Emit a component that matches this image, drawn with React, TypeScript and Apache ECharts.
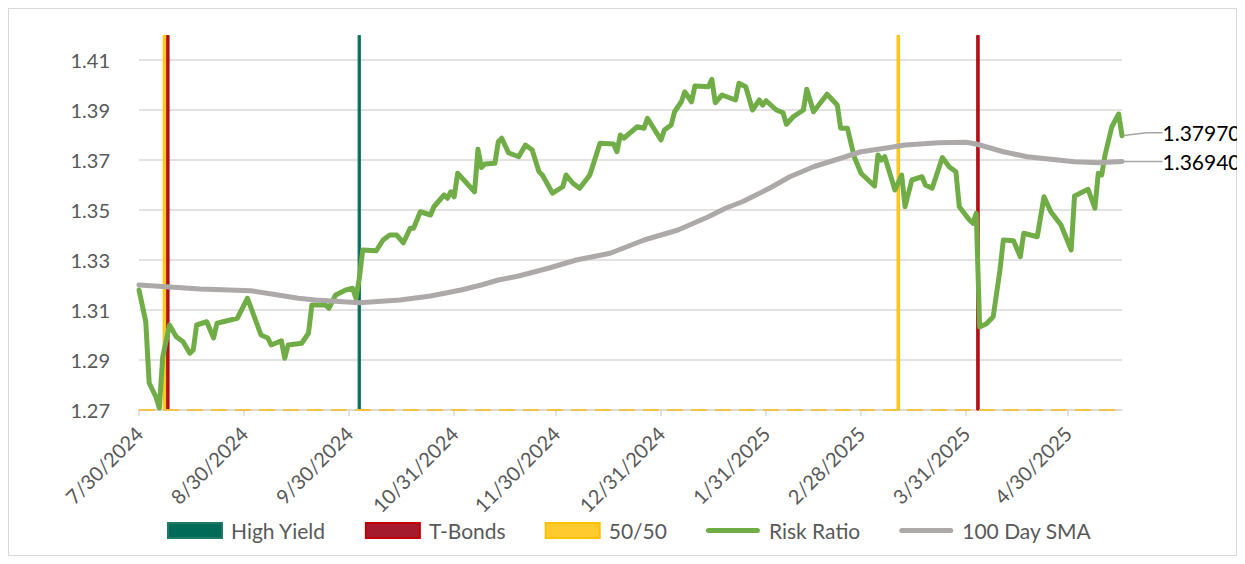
import React, { useEffect, useRef } from "react";
import * as echarts from "echarts";

const tickDates = ["2024-07-30", "2024-08-30", "2024-09-30", "2024-10-31", "2024-11-30", "2024-12-31", "2025-01-31", "2025-02-28", "2025-03-31", "2025-04-30"];
const axisEndDate = "2025-05-16";
const yTicks = [1.27, 1.29, 1.31, 1.33, 1.35, 1.37, 1.39, 1.41];
const yMin = 1.27;
const yMax = 1.42;

const riskDates = [
  "2024-07-30", "2024-08-01", "2024-08-02", "2024-08-04", "2024-08-05", "2024-08-06", "2024-08-08", "2024-08-10", "2024-08-12", "2024-08-14", "2024-08-15", "2024-08-16", "2024-08-19", "2024-08-21", "2024-08-22", "2024-08-28", "2024-08-31",
  "2024-09-04", "2024-09-06", "2024-09-07", "2024-09-10", "2024-09-11", "2024-09-12", "2024-09-16", "2024-09-18", "2024-09-19", "2024-09-23", "2024-09-24", "2024-09-26", "2024-09-29",
  "2024-10-01", "2024-10-02", "2024-10-03", "2024-10-04", "2024-10-08", "2024-10-10", "2024-10-12", "2024-10-14", "2024-10-16", "2024-10-18", "2024-10-19", "2024-10-21", "2024-10-24", "2024-10-25", "2024-10-28", "2024-10-29", "2024-10-30", "2024-10-31",
  "2024-11-01", "2024-11-06", "2024-11-07", "2024-11-08", "2024-11-09", "2024-11-12", "2024-11-13", "2024-11-14", "2024-11-16", "2024-11-19", "2024-11-21", "2024-11-23", "2024-11-25", "2024-11-26", "2024-11-29",
  "2024-12-02", "2024-12-03", "2024-12-05", "2024-12-07", "2024-12-10", "2024-12-13", "2024-12-17", "2024-12-18", "2024-12-19", "2024-12-20", "2024-12-24", "2024-12-26", "2024-12-27", "2024-12-31",
  "2025-01-01", "2025-01-03", "2025-01-04", "2025-01-06", "2025-01-07", "2025-01-09", "2025-01-10", "2025-01-14", "2025-01-15", "2025-01-16", "2025-01-18", "2025-01-22", "2025-01-23", "2025-01-25", "2025-01-27", "2025-01-29", "2025-01-30", "2025-01-31",
  "2025-02-03", "2025-02-05", "2025-02-06", "2025-02-08", "2025-02-11", "2025-02-12", "2025-02-14", "2025-02-18", "2025-02-21", "2025-02-22", "2025-02-24", "2025-02-26", "2025-02-28",
  "2025-03-04", "2025-03-05", "2025-03-06", "2025-03-07", "2025-03-10", "2025-03-12", "2025-03-13", "2025-03-15", "2025-03-18", "2025-03-19", "2025-03-21", "2025-03-24", "2025-03-26", "2025-03-28", "2025-03-29",
  "2025-04-01", "2025-04-02", "2025-04-03", "2025-04-04", "2025-04-06", "2025-04-08", "2025-04-10", "2025-04-11", "2025-04-14", "2025-04-16", "2025-04-17", "2025-04-21", "2025-04-23", "2025-04-25", "2025-04-28",
  "2025-05-01", "2025-05-02", "2025-05-06", "2025-05-08", "2025-05-09", "2025-05-10", "2025-05-11", "2025-05-13", "2025-05-15", "2025-05-16",
];
const riskValues = [
  1.318, 1.3053, 1.2808, 1.2752, 1.2708, 1.2913, 1.304, 1.2993, 1.2973, 1.2927, 1.294, 1.304, 1.3053, 1.2988, 1.3047, 1.3067, 1.3147,
  1.3, 1.2988, 1.296, 1.2977, 1.2907, 1.296, 1.2967, 1.3007, 1.312, 1.312, 1.3107, 1.316, 1.318,
  1.3187, 1.3147, 1.3227, 1.334, 1.3337, 1.338, 1.34, 1.34, 1.3369, 1.3427, 1.3427, 1.3493, 1.348, 1.3513, 1.356, 1.3547, 1.3573, 1.3553,
  1.3647, 1.3573, 1.3743, 1.367, 1.3684, 1.3687, 1.3773, 1.3787, 1.3729, 1.3713, 1.376, 1.374, 1.3653, 1.364, 1.3567,
  1.3593, 1.364, 1.3607, 1.3587, 1.364, 1.3767, 1.3764, 1.3733, 1.38, 1.3787, 1.3833, 1.3827, 1.3867, 1.378,
  1.382, 1.384, 1.3893, 1.3933, 1.3973, 1.3933, 1.3996, 1.3993, 1.4023, 1.3929, 1.396, 1.394, 1.4007, 1.3993, 1.39, 1.394, 1.392, 1.3937,
  1.39, 1.3889, 1.3843, 1.3873, 1.39, 1.3983, 1.3893, 1.3963, 1.392, 1.3827, 1.3827, 1.3713, 1.3647,
  1.3596, 1.372, 1.37, 1.3713, 1.358, 1.364, 1.3513, 1.362, 1.3633, 1.36, 1.3587, 1.371, 1.3673, 1.3653, 1.3513,
  1.346, 1.3447, 1.3487, 1.3032, 1.3045, 1.3073, 1.326, 1.338, 1.3377, 1.3313, 1.3407, 1.3393, 1.3553, 1.3493, 1.344,
  1.334, 1.3556, 1.3583, 1.3507, 1.3647, 1.364, 1.372, 1.3833, 1.3884, 1.3797,
];

const smaDates = [
  "2024-07-30", "2024-08-07", "2024-08-17", "2024-09-01", "2024-09-09", "2024-09-15", "2024-09-20", "2024-10-03", "2024-10-15", "2024-10-24",
  "2024-11-02", "2024-11-08", "2024-11-13", "2024-11-19", "2024-11-28", "2024-12-06", "2024-12-16", "2024-12-26", "2025-01-05", "2025-01-14",
  "2025-01-19", "2025-01-24", "2025-01-27", "2025-02-01", "2025-02-07", "2025-02-14", "2025-02-22", "2025-02-28", "2025-03-08", "2025-03-13",
  "2025-03-23", "2025-03-31", "2025-04-03", "2025-04-11", "2025-04-18", "2025-05-02", "2025-05-09", "2025-05-16",
];
const smaValues = [
  1.32, 1.3193, 1.3184, 1.3177, 1.316, 1.3147, 1.314, 1.3129, 1.314, 1.3156,
  1.318, 1.32, 1.322, 1.3236, 1.3268, 1.33, 1.3327, 1.338, 1.342, 1.3473,
  1.3507, 1.3533, 1.3553, 1.3587, 1.3633, 1.3673, 1.3707, 1.3733, 1.3749, 1.376,
  1.3769, 1.3771, 1.3764, 1.3733, 1.3713, 1.3693, 1.3689, 1.3694,
];

const highYieldDates = ["2024-10-03"];
const tBondDates = ["2024-08-07T12:00:00", "2025-04-03T12:00:00"];
const fiftyFiftyDates = ["2024-08-06T12:00:00", "2025-03-11T00:00:00"];
const signalLevel = 1.42;
const baselineLevel = 1.27;

const FONT = "Lato, 'Noto Sans', sans-serif";
const LINE_ICON = "path://M2.5,0 H51.5 A2.5,2.5 0 0 1 51.5,5 H2.5 A2.5,2.5 0 0 1 2.5,0 Z";

const toTs = (s: string) => new Date(s.length === 10 ? s + "T00:00:00" : s).getTime();
const fmtDate = (v: number) => {
  const d = new Date(v);
  return `${d.getMonth() + 1}/${d.getDate()}/${d.getFullYear()}`;
};

export default function App() {
  const ref = useRef<HTMLDivElement>(null);

  useEffect(() => {
    if (!ref.current) return;
    const chart = echarts.init(ref.current, undefined, { renderer: "svg" });
    const tickTs = tickDates.map(toTs);

    const lastLabel = () => ({
      show: true,
      position: "right",
      distance: 5,
      color: "#000000",
      fontSize: 21,
      fontFamily: FONT,
      padding: [0, 0, 0, 9],
      formatter: (p: any) => Number(p.value[1]).toFixed(5),
    });

    const lineData = (dates: string[], vals: number[], color: string) =>
      dates.map((d, i) =>
        i === dates.length - 1
          ? {
              value: [toTs(d), vals[i]],
              symbol: "circle",
              symbolSize: 3,
              itemStyle: { color },
              label: lastLabel(),
            }
          : { value: [toTs(d), vals[i]] }
      );

    const barSeries = (name: string, dates: string[], fill: string, border: string, extra: any = {}) => ({
      name,
      type: "bar",
      data: dates.map((d) => [toTs(d), signalLevel]),
      barWidth: 3.5,
      barGap: "-100%",
      itemStyle: { color: fill, borderColor: border, borderWidth: 1 },
      emphasis: { disabled: true },
      ...extra,
    });

    chart.setOption({
      animation: false,
      grid: { left: 131, right: 123, top: 27, bottom: 146, containLabel: false, outerBoundsMode: "none" },
      legend: {
        left: 154,
        top: 507,
        itemWidth: 54,
        itemHeight: 15,
        itemGap: 39,
        textStyle: { color: "#595959", fontSize: 21, fontFamily: FONT, padding: [0, 0, 0, 4] },
        data: [
          { name: "High Yield", icon: "rect" },
          { name: "T-Bonds", icon: "rect" },
          { name: "50/50", icon: "rect" },
          { name: "Risk Ratio", icon: LINE_ICON, itemStyle: { color: "#70AD47", borderWidth: 0 } },
          { name: "100 Day SMA", icon: LINE_ICON, itemStyle: { color: "#ADA9A9", borderWidth: 0 } },
        ],
      },
      xAxis: {
        type: "value",
        min: toTs(tickDates[0]),
        max: toTs(axisEndDate),
        axisLine: { show: true, lineStyle: { color: "#D9D9D9", width: 1.5 } },
        axisTick: { show: true, customValues: tickTs, length: 6, lineStyle: { color: "#D9D9D9", width: 1.5 } },
        axisLabel: {
          customValues: tickTs,
          formatter: (v: number) => fmtDate(v),
          rotate: 45,
          margin: 20,
          color: "#595959",
          fontSize: 20,
          fontFamily: FONT,
        },
        splitLine: { show: false },
      },
      yAxis: {
        type: "value",
        min: yMin,
        max: yMax,
        axisLine: { show: false },
        axisTick: { show: false, customValues: yTicks },
        axisLabel: {
          customValues: yTicks,
          formatter: (v: number) => v.toFixed(2),
          margin: 29,
          color: "#595959",
          fontSize: 20,
          fontFamily: FONT,
        },
        splitLine: { show: true, lineStyle: { color: "#D9D9D9", width: 1.5 } },
      },
      series: [
        barSeries("High Yield", highYieldDates, "#006A58", "#1F7A68"),
        barSeries("T-Bonds", tBondDates, "#A31B2C", "#C00000"),
        barSeries("50/50", fiftyFiftyDates, "#FFCA2E", "#FFC000", {
          markLine: {
            silent: true,
            symbol: "none",
            label: { show: false },
            lineStyle: { color: "#F2C24A", width: 2, type: [16, 8] },
            data: [{ yAxis: baselineLevel }],
          },
        }),
        {
          name: "Risk Ratio",
          type: "line",
          data: lineData(riskDates, riskValues, "#70AD47"),
          symbol: "none",
          showSymbol: true,
          lineStyle: { color: "#70AD47", width: 5, join: "round", cap: "round" },
          itemStyle: { color: "#70AD47" },
          labelLine: { show: true, length2: 16, lineStyle: { color: "#A6A6A6", width: 1.5 } },
          labelLayout: { dx: 25, dy: -3 },
          emphasis: { disabled: true },
        },
        {
          name: "100 Day SMA",
          type: "line",
          data: lineData(smaDates, smaValues, "#ADA9A9"),
          symbol: "none",
          showSymbol: true,
          lineStyle: { color: "#ADA9A9", width: 5, join: "round", cap: "round" },
          itemStyle: { color: "#ADA9A9" },
          labelLine: { show: true, length2: 16, lineStyle: { color: "#A6A6A6", width: 1.5 } },
          labelLayout: { dx: 25, dy: 0 },
          emphasis: { disabled: true },
        },
      ],
    });

    return () => chart.dispose();
  }, []);

  return (
    <div
      style={{ position: "relative", width: 1229, height: 548, border: "1px solid #D9D9D9", boxSizing: "border-box" }}
    >
      <div ref={ref} style={{ position: "absolute", left: -1, top: -1, width: 1237, height: 548 }} />
    </div>
  );
}
